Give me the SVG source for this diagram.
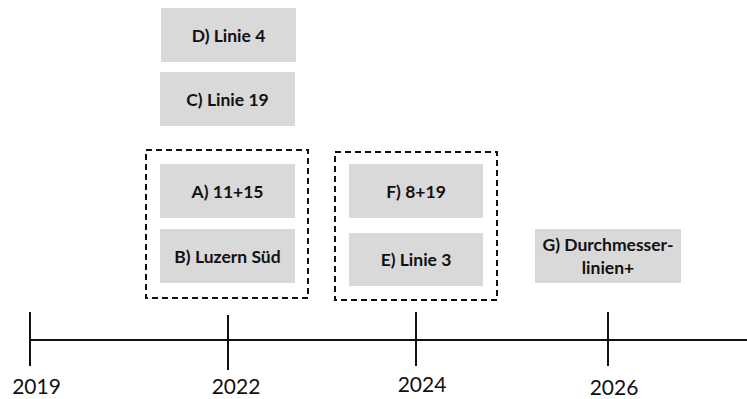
<svg xmlns="http://www.w3.org/2000/svg" width="747" height="399" viewBox="0 0 747 399">
<style>
.box{fill:#d9d9d9}
.lbl{font-family:Lato,"Open Sans","Liberation Sans",sans-serif;font-weight:bold;font-size:17.5px;fill:#111;text-anchor:middle}
.yr{font-family:Lato,"Open Sans","Liberation Sans",sans-serif;font-size:21px;fill:#111;text-anchor:middle}
.grp{fill:none;stroke:#111;stroke-width:2;stroke-dasharray:6 4}
.axis{stroke:#111;stroke-width:2;fill:none}
</style>
<rect width="747" height="399" fill="#fff"/>
<g id="groups">
<rect class="grp" x="146" y="150" width="162" height="148"/>
<rect class="grp" x="335" y="152" width="162" height="148"/>
</g>
<g id="nodeD"><rect class="box" x="161" y="8" width="135" height="54"/><text class="lbl" x="228.5" y="41.5">D) Linie 4</text></g>
<g id="nodeC"><rect class="box" x="160" y="72" width="135" height="54"/><text class="lbl" x="227.5" y="105.5">C) Linie 19</text></g>
<g id="nodeA"><rect class="box" x="160" y="164" width="135" height="54"/><text class="lbl" x="227.5" y="197.5">A) 11+15</text></g>
<g id="nodeB"><rect class="box" x="160" y="229" width="135" height="54"/><text class="lbl" x="227.5" y="262.5">B) Luzern Süd</text></g>
<g id="nodeF"><rect class="box" x="349" y="164" width="134" height="54"/><text class="lbl" x="416" y="197.5">F) 8+19</text></g>
<g id="nodeE"><rect class="box" x="349" y="233" width="134" height="53"/><text class="lbl" x="416" y="266">E) Linie 3</text></g>
<g id="nodeG"><rect class="box" x="535" y="229" width="146" height="54"/><text class="lbl" x="608" y="251">G) Durchmesser-</text><text class="lbl" x="608" y="274">linien+</text></g>
<g id="connectors">
<line class="axis" x1="30" y1="340" x2="747" y2="340"/>
<line class="axis" x1="30" y1="312" x2="30" y2="366"/>
<line class="axis" x1="228" y1="315" x2="228" y2="370"/>
<line class="axis" x1="416" y1="312" x2="416" y2="366"/>
<line class="axis" x1="608" y1="312" x2="608" y2="366"/>
</g>
<g id="years">
<text class="yr" x="36.5" y="394">2019</text>
<text class="yr" x="236" y="394">2022</text>
<text class="yr" x="422" y="392">2024</text>
<text class="yr" x="614" y="395">2026</text>
</g>
</svg>
